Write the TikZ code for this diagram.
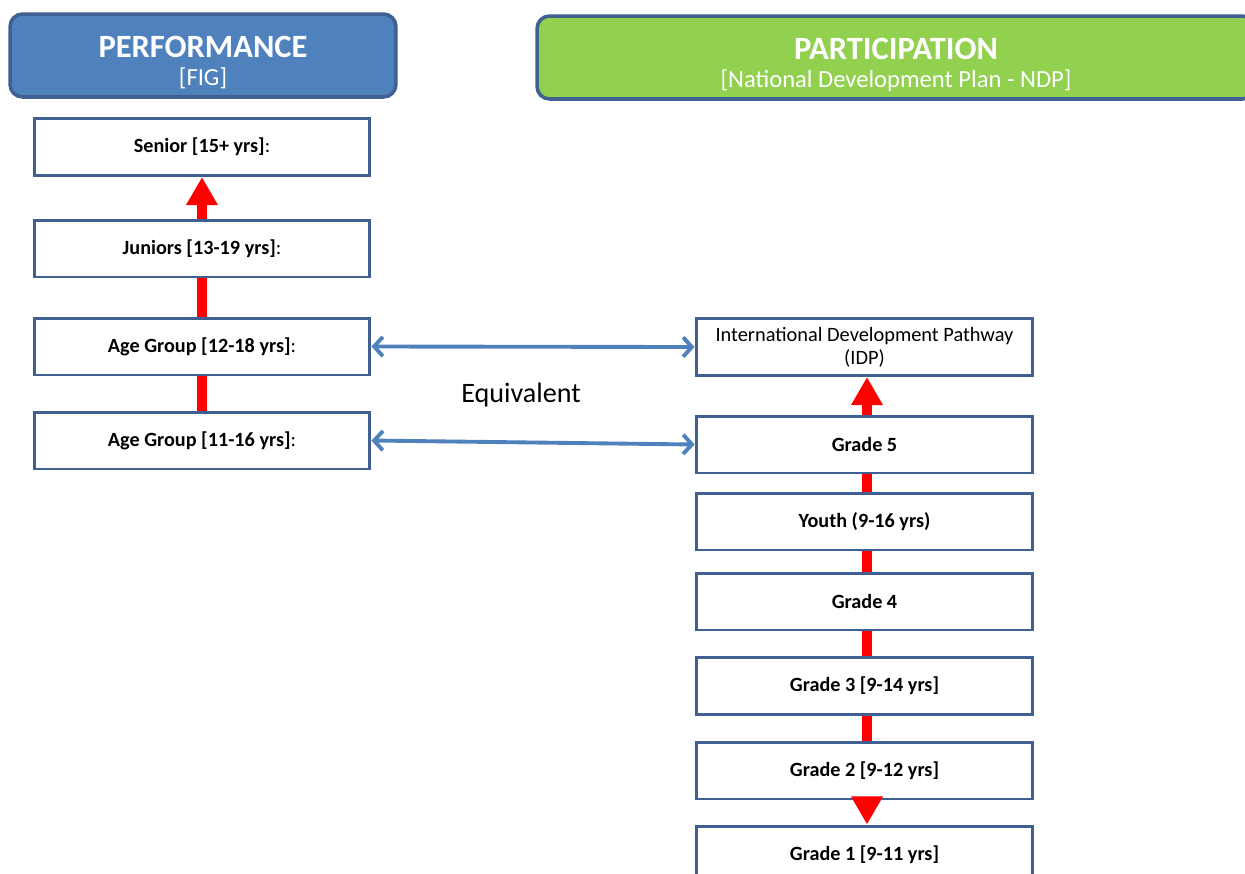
\documentclass[tikz,border=0pt]{standalone}
\usepackage{fontspec}
\setmainfont{Carlito}
\usetikzlibrary{arrows.meta}

\definecolor{perfblue}{HTML}{4F81BD}
\definecolor{partgreen}{HTML}{92D050}
\definecolor{rimblue}{HTML}{3F6091}
\definecolor{linkblue}{HTML}{4F81BD}

\begin{document}
\begin{tikzpicture}[x=0.02cm, y=-0.02cm,
    header/.style={draw=rimblue, line width=2pt, rounded corners=0.25cm, text=white,
        align=center, minimum height=1.66cm, inner sep=0pt},
    stage/.style={draw=rimblue, line width=1.7pt, fill=white, minimum height=1.14cm,
        align=center, inner sep=0pt, font=\fontsize{11.5}{13}\selectfont},
    climb/.style={draw=red, line width=5.7pt},
    climbhead/.style={climb, -{Triangle[width=17pt,length=16pt]}},
    equal/.style={draw=linkblue, line width=2.2pt, {Straight Barb[length=5pt,width=11pt]}-{Straight Barb[length=5pt,width=11pt]}}]

    \clip (0, 0) rectangle (1245, 873);
    \fill[white] (0, 0) rectangle (1245, 873);

    % headers
    \node[header, fill=perfblue, minimum width=7.72cm] (perf) at (203, 55.5)
        {\rule{0pt}{20pt}{\fontsize{18.5}{22}\selectfont\bfseries PERFORMANCE}\\[4pt]{\fontsize{14}{16}\selectfont [FIG]}};

    \node[header, fill=partgreen, minimum width=14.36cm] (part) at (896, 57.5)
        {\rule{0pt}{20pt}{\fontsize{18.5}{22}\selectfont\bfseries PARTICIPATION}\\[4pt]{\fontsize{14}{16}\selectfont [National Development Plan - NDP]}};

    % performance pathway
    \node[stage, minimum width=6.72cm] (senior) at (202, 147) {\textbf{Senior [15+ yrs]}:};
    \node[stage, minimum width=6.72cm] (junior) at (202, 248.5) {\textbf{Juniors [13-19 yrs]}:};
    \node[stage, minimum width=6.72cm] (ageA) at (202, 346.5) {\textbf{Age Group [12-18 yrs]}:};
    \node[stage, minimum width=6.72cm] (ageB) at (202, 440.5) {\textbf{Age Group [11-16 yrs]}:};

    % participation pathway
    \node[stage, minimum width=6.74cm, font=\fontsize{11.6}{13.2}\selectfont] (idp) at (864.5, 347)
        {International Development Pathway\\(IDP)};
    \node[stage, minimum width=6.74cm] (grade5) at (864.5, 444.5) {\textbf{Grade 5}};
    \node[stage, minimum width=6.74cm] (youth) at (864.5, 521.5) {\textbf{Youth (9-16 yrs)}};
    \node[stage, minimum width=6.74cm] (grade4) at (864.5, 601.5) {\textbf{Grade 4}};
    \node[stage, minimum width=6.74cm] (grade3) at (864.5, 686) {\textbf{Grade 3 [9-14 yrs]}};
    \node[stage, minimum width=6.74cm] (grade2) at (864.5, 770.5) {\textbf{Grade 2 [9-12 yrs]}};
    \node[stage, minimum width=6.74cm] (grade1) at (864.5, 854.5) {\textbf{Grade 1 [9-11 yrs]}};

    % red progression
    \draw[climb] (ageB.north) -- (ageA.south);
    \draw[climb] (ageA.north) -- (junior.south);
    \draw[climbhead] (junior.north) -- (senior.south);

    \draw[climb] ([xshift=0.05cm]grade2.north) -- ([xshift=0.05cm]grade3.south);
    \draw[climb] ([xshift=0.05cm]grade3.north) -- ([xshift=0.05cm]grade4.south);
    \draw[climb] ([xshift=0.05cm]grade4.north) -- ([xshift=0.05cm]youth.south);
    \draw[climb] ([xshift=0.05cm]youth.north) -- ([xshift=0.05cm]grade5.south);
    \draw[climbhead] ([xshift=0.05cm]grade5.north) -- ([xshift=0.05cm]idp.south);
    \draw[climbhead] ([xshift=0.05cm]grade2.south) -- ([xshift=0.05cm]grade1.north);

    % equivalence
    \draw[equal] (ageA.east) -- (idp.west);
    \draw[equal] (ageB.east) -- (grade5.west);
    \node[font=\fontsize{16}{19}\selectfont] (equiv) at (521, 395) {Equivalent};
\end{tikzpicture}
\end{document}
